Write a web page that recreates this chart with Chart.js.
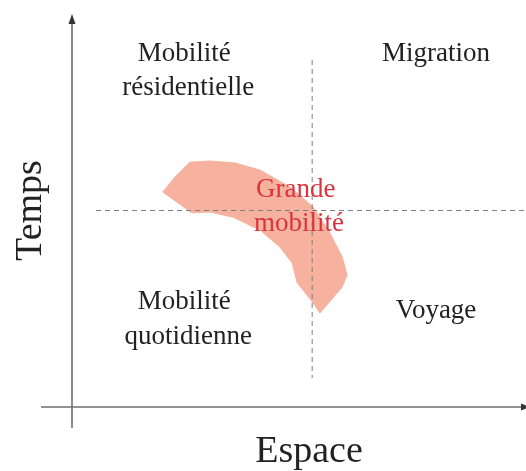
<!DOCTYPE html>
<html>
<head>
<meta charset="utf-8">
<script src="https://cdn.jsdelivr.net/npm/chart.js@4.4.1/dist/chart.umd.min.js"></script>
<style>
  html, body { margin: 0; padding: 0; background: #ffffff; }
  #wrap { width: 526px; height: 471px; }
</style>
</head>
<body>
<div id="wrap"><canvas id="c" width="526" height="471"></canvas></div>
<script>
// ---- Data (conceptual space 0..100 on both axes) ----
const axisTitles = { x: "Espace", y: "Temps" };

// "Grande mobilité" band outline (closed polygon)
const bandX = [20.0, 22.9, 26.0, 30.4, 35.9, 41.4, 48.0, 53.1, 56.8, 59.5, 60.6, 59.5, 54.6, 53.1, 49.6, 48.5, 45.8, 41.4, 35.5, 30.4, 26.4, 20.0];
const bandY = [54.7, 58.8, 62.3, 62.6, 62.1, 60.3, 56.0, 50.9, 44.3, 38.2, 33.6, 30.5, 23.9, 26.5, 31.6, 36.6, 40.7, 45.0, 48.3, 49.6, 49.4, 54.7];

// quadrant dividers
const vDividerX = [52.9, 52.9];
const vDividerY = [88.3, 7.4];
const hDividerX = [5.3, 100];
const hDividerY = [50.0, 50.0];

// quadrant labels
const labelTexts = ["Mobilité", "résidentielle", "Migration", "Mobilité", "quotidienne", "Voyage", "Grande", "mobilité"];
const labelX     = [24.7, 25.6, 80.2, 24.7, 25.6, 80.2, 49.3, 50.0];
const labelY     = [88.1, 79.4, 88.1, 24.9, 16.0, 22.6, 53.4, 44.8];
const labelRed   = [false, false, false, false, false, false, true, true];

const toPts = (xs, ys) => xs.map((x, i) => ({ x: x, y: ys[i] }));

const SERIF = '"Liberation Serif", "DejaVu Serif", serif';

const decorPlugin = {
  id: 'decor',
  beforeDatasetsDraw(chart) {
    const { ctx, chartArea: a } = chart;
    ctx.save();
    ctx.strokeStyle = '#6e6e6e';
    ctx.lineWidth = 1.6;
    // horizontal axis
    ctx.beginPath();
    ctx.moveTo(a.left - 31, a.bottom);
    ctx.lineTo(a.right, a.bottom);
    ctx.stroke();
    // vertical axis
    ctx.beginPath();
    ctx.moveTo(a.left, a.bottom + 21);
    ctx.lineTo(a.left, a.top + 6);
    ctx.stroke();
    // arrow heads
    ctx.fillStyle = '#333';
    ctx.beginPath();
    ctx.moveTo(a.left, a.top);
    ctx.lineTo(a.left - 3.5, a.top + 10);
    ctx.lineTo(a.left + 3.5, a.top + 10);
    ctx.closePath();
    ctx.fill();
    ctx.beginPath();
    ctx.moveTo(a.right + 4, a.bottom);
    ctx.lineTo(a.right - 5, a.bottom - 3.5);
    ctx.lineTo(a.right - 5, a.bottom + 3.5);
    ctx.closePath();
    ctx.fill();
    ctx.restore();
  },
  afterDatasetsDraw(chart) {
    const { ctx, chartArea: a, scales } = chart;
    ctx.save();
    ctx.textAlign = 'center';
    ctx.textBaseline = 'alphabetic';
    ctx.font = '27px ' + SERIF;
    labelTexts.forEach((t, i) => {
      ctx.fillStyle = labelRed[i] ? '#d9343d' : '#222222';
      ctx.fillText(t, scales.x.getPixelForValue(labelX[i]), scales.y.getPixelForValue(labelY[i]));
    });
    // axis titles
    ctx.fillStyle = '#222222';
    ctx.font = '38px ' + SERIF;
    ctx.fillText(axisTitles.x, (a.left + a.right) / 2 + 10, a.bottom + 55);
    ctx.save();
    ctx.translate(a.left - 41, scales.y.getPixelForValue(50));
    ctx.rotate(-Math.PI / 2);
    ctx.textBaseline = 'middle';
    ctx.fillText(axisTitles.y, 0, 0);
    ctx.restore();
    ctx.restore();
  }
};

new Chart(document.getElementById('c'), {
  type: 'scatter',
  data: {
    datasets: [
      {
        data: toPts(vDividerX, vDividerY),
        showLine: true,
        borderColor: '#7e7e7e',
        borderWidth: 1,
        borderDash: [5, 4],
        pointRadius: 0,
        fill: false
      },
      {
        data: toPts(hDividerX, hDividerY),
        showLine: true,
        borderColor: '#7e7e7e',
        borderWidth: 1,
        borderDash: [5, 4],
        pointRadius: 0,
        fill: false
      },
      {
        data: toPts(bandX, bandY),
        showLine: true,
        borderColor: 'rgba(246,178,158,1)',
        borderWidth: 1,
        backgroundColor: 'rgba(246,178,158,1)',
        pointRadius: 0,
        tension: 0,
        fill: 'shape'
      }
    ]
  },
  options: {
    responsive: false,
    animation: false,
    devicePixelRatio: 1,
    layout: { padding: { left: 72, top: 14, right: 0, bottom: 64 } },
    scales: {
      x: { type: 'linear', min: 0, max: 100, display: false },
      y: { type: 'linear', min: 0, max: 100, display: false }
    },
    plugins: {
      legend: { display: false },
      tooltip: { enabled: false },
      title: { display: false }
    }
  },
  plugins: [decorPlugin]
});
</script>
</body>
</html>
